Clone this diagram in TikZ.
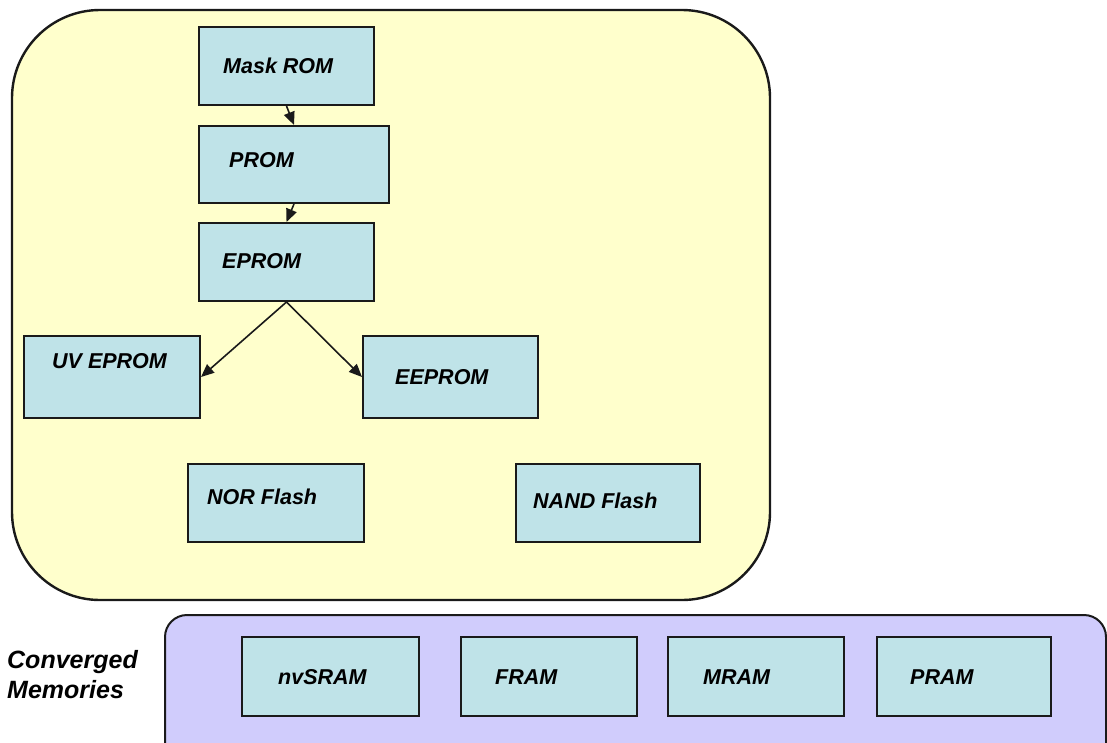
\documentclass[tikz,border=0pt]{standalone}
\usepackage{fontspec}
\setmainfont{Liberation Sans}
\usetikzlibrary{arrows.meta}
\definecolor{yellowbg}{HTML}{FFFFCC}
\definecolor{boxblue}{HTML}{BFE3E8}
\definecolor{lavender}{HTML}{D0CCFC}
\definecolor{edge}{HTML}{1A1A1A}
\begin{document}
\begin{tikzpicture}[x=1pt,y=-1pt,
  box/.style={draw=edge, line width=2pt, fill=boxblue, anchor=north west, inner sep=0pt},
  lbl/.style={anchor=west, inner sep=0pt, font=\fontsize{21.5}{24}\selectfont\bfseries\itshape},
  arr/.style={-{Triangle[length=13pt,width=11pt]}, line width=1.6pt, draw=edge}]
\useasboundingbox (0,0) rectangle (1107,742);
\fill[white] (0,0) rectangle (1107,742);
\clip (0,0) rectangle (1107,742);
% background regions
\draw[draw=edge, line width=2.4pt, fill=yellowbg, rounded corners=88pt] (12,10) rectangle (770,600);
\draw[draw=edge, line width=2pt, fill=lavender, rounded corners=22pt] (165,615) rectangle (1106,780);
% boxes
\node[box, minimum width=175pt, minimum height=78pt] (mask) at (198,26) {};
\node[box, minimum width=190pt, minimum height=77pt] (prom) at (198,125) {};
\node[box, minimum width=175pt, minimum height=78pt] (eprom) at (198,222) {};
\node[box, minimum width=176pt, minimum height=82pt] (uv) at (23,335) {};
\node[box, minimum width=175pt, minimum height=82pt] (eeprom) at (362,335) {};
\node[box, minimum width=176pt, minimum height=78pt] (nor) at (187,463) {};
\node[box, minimum width=184pt, minimum height=78pt] (nand) at (515,463) {};
\node[box, minimum width=177pt, minimum height=79pt] (nvsram) at (241,636) {};
\node[box, minimum width=176pt, minimum height=79pt] (fram) at (460,636) {};
\node[box, minimum width=176pt, minimum height=79pt] (mram) at (667,636) {};
\node[box, minimum width=174pt, minimum height=79pt] (pram) at (876,636) {};
% labels
\node[lbl] (tmask) at (223,66) {Mask ROM};
\node[lbl] (tprom) at (229,160) {PROM};
\node[lbl] (teprom) at (222,261) {EPROM};
\node[lbl] (tuv) at (52,361) {UV EPROM};
\node[lbl] (teeprom) at (395,377) {EEPROM};
\node[lbl] (tnor) at (207,497) {NOR Flash};
\node[lbl] (tnand) at (533,501) {NAND Flash};
\node[lbl] (tnvsram) at (278,677) {nvSRAM};
\node[lbl] (tfram) at (495,677) {FRAM};
\node[lbl] (tmram) at (703,677) {MRAM};
\node[lbl] (tpram) at (910,677) {PRAM};
\node[anchor=west, inner sep=0pt, align=left, font=\fontsize{25}{30}\selectfont\bfseries\itshape] (conv) at (7,675) {Converged\\Memories};
% connectors
\draw[arr] (mask.south) -- (prom.north);
\draw[arr] (prom.south) -- (eprom.north);
\draw[arr] (eprom.south) -- (uv.east);
\draw[arr] (eprom.south) -- (eeprom.west);
\end{tikzpicture}
\end{document}
